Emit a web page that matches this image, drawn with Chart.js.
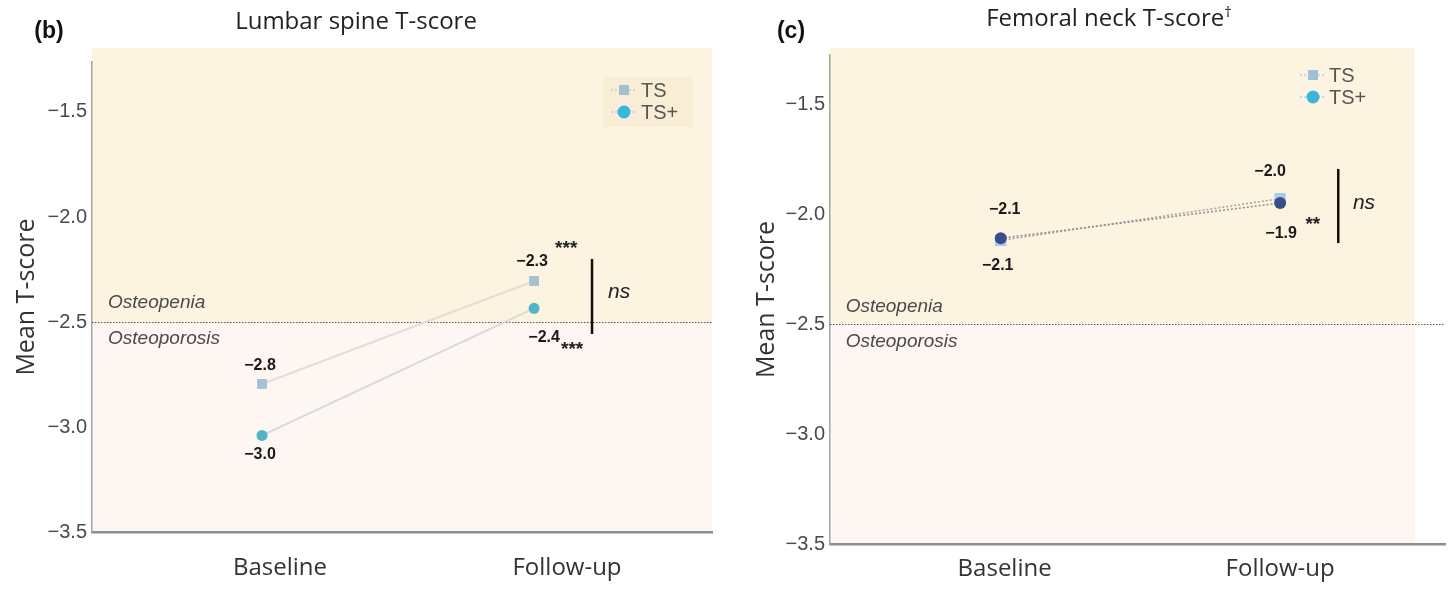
<!DOCTYPE html>
<html><head><meta charset="utf-8">
<script src="https://cdn.jsdelivr.net/npm/chart.js@4.4.1/dist/chart.umd.min.js"></script>
<style>
html,body{margin:0;padding:0;background:#fff;}
#wrap{position:relative;width:1453px;height:590px;overflow:hidden;background:#fff;}
.panel{position:absolute;top:0;height:590px;}
</style></head><body>
<div id="wrap">
<div class="panel" style="left:0;width:727px"><canvas id="cb" width="727" height="590"></canvas></div>
<div class="panel" style="left:727px;width:726px"><canvas id="cc" width="726" height="590"></canvas></div>
</div>
<script>
// ---------- data ----------
const timepoints = ['Baseline', 'Follow-up'];
const seriesNames = ['TS', 'TS+'];
const yTicks = [-3.5, -3.0, -2.5, -2.0, -1.5];
const thresholdValue = -2.5;
const zoneLabels = ['Osteopenia', 'Osteoporosis'];

// (b) Lumbar spine T-score
const lumbarTS = [-2.795, -2.305];
const lumbarTSplus = [-3.04, -2.435];
const lumbarTSLabels = ['−2.8', '−2.3'];
const lumbarTSplusLabels = ['−3.0', '−2.4'];
const lumbarSig = ['***', '***', 'ns'];

// (c) Femoral neck T-score
const femoralTS = [-2.12, -1.93];
const femoralTSplus = [-2.11, -1.95];
const femoralTSLabels = ['−2.1', '−2.0'];
const femoralTSplusLabels = ['−2.1', '−1.9'];
const femoralSig = ['**', 'ns'];

// ---------- helpers ----------
function fmt(v){ return (v < 0 ? '−' : '') + Math.abs(v).toFixed(1); }

const decor = {
  id: 'decor',
  beforeDraw(chart, _a, o) {
    const {ctx, chartArea: a, scales: {y}} = chart;
    const yT = y.getPixelForValue(thresholdValue);
    ctx.save();
    ctx.fillStyle = o.upperFill;
    ctx.fillRect(a.left, o.shadeTop, o.shadeRight - a.left, yT - o.shadeTop);
    ctx.fillStyle = o.lowerFill;
    ctx.fillRect(a.left, yT, o.shadeRight - a.left, a.bottom - yT);
    if (o.legendBox) {
      const b = o.legendBox;
      ctx.fillStyle = b.color;
      ctx.fillRect(b.x, b.y, b.w, b.h);
    }
    ctx.restore();
  },
  beforeDatasetsDraw(chart, _a, o) {
    const {ctx, chartArea: a, scales: {y}} = chart;
    const yT = Math.round(y.getPixelForValue(thresholdValue)) + 0.5;
    ctx.save();
    ctx.strokeStyle = '#555';
    ctx.lineWidth = 1;
    ctx.setLineDash([1.5, 1.5]);
    ctx.beginPath(); ctx.moveTo(a.left, yT); ctx.lineTo(a.right, yT); ctx.stroke();
    ctx.restore();
  },
  afterDraw(chart, _a, o) {
    const {ctx, chartArea: a, scales: {x, y}} = chart;
    ctx.save();
    // panel letter
    ctx.fillStyle = '#111';
    ctx.font = 'bold 23px "Liberation Sans", Arial, sans-serif';
    ctx.textAlign = 'center'; ctx.textBaseline = 'middle';
    ctx.fillText(o.letter.text, o.letter.x, o.letter.y);
    // title
    ctx.font = '24px "Open Sans", sans-serif';
    ctx.fillStyle = '#222';
    ctx.textBaseline = 'alphabetic';
    const tw = ctx.measureText(o.title.text).width;
    let sw = 0;
    if (o.title.sup) { ctx.font = '15px "Open Sans", sans-serif'; sw = ctx.measureText(o.title.sup).width; }
    const startX = o.title.x - (tw + sw) / 2;
    ctx.font = '24px "Open Sans", sans-serif';
    ctx.textAlign = 'left';
    ctx.fillText(o.title.text, startX, o.title.y);
    if (o.title.sup) { ctx.font = '15px "Open Sans", sans-serif'; ctx.fillText(o.title.sup, startX + tw, o.title.y - 9); }
    // y axis title
    ctx.save();
    ctx.translate(o.yTitle.x, (a.top + a.bottom) / 2);
    ctx.rotate(-Math.PI / 2);
    ctx.textAlign = 'center'; ctx.textBaseline = 'middle';
    ctx.font = '25px "Open Sans", sans-serif';
    ctx.fillStyle = '#333';
    ctx.fillText('Mean T-score', 0, 0);
    ctx.restore();
    // zone labels
    ctx.font = 'italic 19px "Liberation Sans", Arial, sans-serif';
    ctx.fillStyle = '#4a4a4a';
    ctx.textAlign = 'left'; ctx.textBaseline = 'middle';
    o.zones.forEach((z, i) => ctx.fillText(zoneLabels[i], x.getPixelForValue(z.x), y.getPixelForValue(z.y)));
    // point labels
    ctx.font = 'bold 16px "Liberation Sans", Arial, sans-serif';
    ctx.fillStyle = '#1a1a1a';
    ctx.textAlign = 'center';
    o.pointLabels.forEach((set, di) => {
      const meta = chart.getDatasetMeta(di);
      set.texts.forEach((t, j) => {
        const p = meta.data[j];
        ctx.fillText(t, p.x + set.off[j][0], p.y + set.off[j][1]);
      });
    });
    // significance marks
    o.marks.forEach(m => {
      ctx.font = m.font;
      ctx.fillStyle = '#222';
      ctx.fillText(m.text, x.getPixelForValue(m.x), y.getPixelForValue(m.y));
    });
    // bracket bar
    o.bars.forEach(b => {
      const bx = x.getPixelForValue(b.x);
      ctx.strokeStyle = '#111'; ctx.lineWidth = 2.5;
      ctx.beginPath(); ctx.moveTo(bx, y.getPixelForValue(b.y1)); ctx.lineTo(bx, y.getPixelForValue(b.y2)); ctx.stroke();
    });
    // legend
    o.legend.items.forEach((it, i) => {
      const ly = o.legend.y[i];
      const mx = o.legend.x;
      ctx.strokeStyle = it.lineColor; ctx.lineWidth = 1.5; ctx.setLineDash([2, 2]);
      ctx.beginPath(); ctx.moveTo(mx - 13, ly); ctx.lineTo(mx - 5, ly); ctx.moveTo(mx + 5, ly); ctx.lineTo(mx + 13, ly); ctx.stroke();
      ctx.setLineDash([]);
      ctx.fillStyle = it.color;
      if (it.shape === 'rect') ctx.fillRect(mx - 5, ly - 5, 10, 10);
      else { ctx.beginPath(); ctx.arc(mx, ly, 6.5, 0, Math.PI * 2); ctx.fill(); }
      ctx.fillStyle = '#555';
      ctx.font = '20px "Liberation Sans", Arial, sans-serif';
      ctx.textAlign = 'left'; ctx.textBaseline = 'middle';
      ctx.fillText(seriesNames[i], o.legend.textX, ly + 1);
    });
    ctx.restore();
  }
};

function makeChart(id, c) {
  return new Chart(document.getElementById(id), {
    type: 'scatter',
    data: {
      datasets: [
        { label: seriesNames[0], data: c.ts.map((v, i) => ({x: i, y: v})), showLine: true,
          borderColor: c.tsLine, borderWidth: c.lineWidth, borderDash: c.dash,
          pointStyle: 'rect', pointRadius: c.tsRadius, pointBackgroundColor: c.tsColor, pointBorderColor: c.tsColor, pointBorderWidth: 0, order: 2 },
        { label: seriesNames[1], data: c.tsp.map((v, i) => ({x: i, y: v})), showLine: true,
          borderColor: c.tspLine, borderWidth: c.lineWidth, borderDash: c.dash,
          pointStyle: 'circle', pointRadius: c.tspRadius, pointBackgroundColor: c.tspColor, pointBorderColor: c.tspColor, pointBorderWidth: 0, order: 1 }
      ]
    },
    options: {
      responsive: false,
      animation: false,
      devicePixelRatio: 1,
      layout: { padding: c.padding },
      plugins: { legend: { display: false }, tooltip: { enabled: false }, decor: c.decor },
      scales: {
        x: {
          type: 'linear', min: c.xMin, max: c.xMax,
          grid: { display: false, drawTicks: false },
          border: { display: true, color: '#8e8e8e', width: 2.5 },
          afterBuildTicks: ax => { ax.ticks = c.xLabelPos.map(v => ({value: v})); },
          afterFit: ax => { ax.height = c.xHeight; },
          ticks: { padding: c.xPad, maxRotation: 0, autoSkip: false,
            font: { family: '"Open Sans", sans-serif', size: 24 }, color: '#333',
            callback: (v, i) => timepoints[i] }
        },
        y: {
          type: 'linear', min: -3.5, max: c.yMax,
          grid: { display: false, drawTicks: false },
          border: { display: true, color: '#a3a3a3', width: 1.5 },
          afterBuildTicks: ax => { ax.ticks = yTicks.map(v => ({value: v})); },
          afterFit: ax => { ax.width = c.yWidth; },
          ticks: { padding: 5, font: { family: '"Liberation Sans", Arial, sans-serif', size: 20 }, color: '#4a4a4a',
            callback: v => fmt(v) }
        }
      }
    },
    plugins: [decor]
  });
}

// (b)
makeChart('cb', {
  ts: lumbarTS, tsp: lumbarTSplus,
  tsLine: '#e4dcd6', tspLine: '#d3dcd6', lineWidth: 2, dash: [],
  tsColor: '#a9c0d2', tspColor: '#4fb4c6', tsRadius: 7, tspRadius: 5.5,
  padding: { top: 62, right: 15, bottom: 0, left: 0 },
  xMin: -0.625, xMax: 1.654, xLabelPos: [0.066, 1.121], xHeight: 58, xPad: 22,
  yMax: -1.262, yWidth: 92,
  decor: {
    upperFill: '#fcf4e1', lowerFill: '#fdf6f2', shadeTop: 48, shadeRight: 712,
    legendBox: { x: 603, y: 77, w: 90, h: 50, color: '#f9eed5' },
    letter: { text: '(b)', x: 49, y: 32 },
    title: { text: 'Lumbar spine T-score', x: 356, y: 29 },
    yTitle: { x: 27 },
    zones: [{ x: -0.566, y: -2.41 }, { x: -0.566, y: -2.581 }],
    pointLabels: [
      { texts: lumbarTSLabels, off: [[-2, -18], [-2, -19]] },
      { texts: lumbarTSplusLabels, off: [[-2, 19], [10, 29]] }
    ],
    marks: [
      { text: lumbarSig[0], x: 1.118, y: -2.15, font: 'bold 19px "Liberation Sans", Arial, sans-serif' },
      { text: lumbarSig[1], x: 1.140, y: -2.63, font: 'bold 19px "Liberation Sans", Arial, sans-serif' },
      { text: lumbarSig[2], x: 1.3125, y: -2.357, font: 'italic 21px "Liberation Sans", Arial, sans-serif' }
    ],
    bars: [{ x: 1.213, y1: -2.2, y2: -2.557 }],
    legend: { x: 624, textX: 641, y: [90, 112],
      items: [ { shape: 'rect', color: '#a3bfd8', lineColor: '#b5d0e2' }, { shape: 'circle', color: '#3db4dc', lineColor: '#9fd6e4' } ] }
  }
});

// (c)
makeChart('cc', {
  ts: femoralTS, tsp: femoralTSplus,
  tsLine: '#a0a0a0', tspLine: '#8f8f8f', lineWidth: 1.5, dash: [2, 2],
  tsColor: '#a9cbea', tspColor: '#3b4b8c', tsRadius: 8, tspRadius: 6,
  padding: { top: 55, right: 0, bottom: 0, left: 0 },
  xMin: -0.611, xMax: 1.590, xLabelPos: [0.014, 1.0], xHeight: 46, xPad: 11,
  yMax: -1.277, yWidth: 103,
  decor: {
    upperFill: '#fcf4e1', lowerFill: '#fdf6f2', shadeTop: 48, shadeRight: 688,
    legendBox: null,
    letter: { text: '(c)', x: 64, y: 32 },
    title: { text: 'Femoral neck T-score', sup: '†', x: 382, y: 26 },
    yTitle: { x: 40 },
    zones: [{ x: -0.555, y: -2.423 }, { x: -0.555, y: -2.582 }],
    pointLabels: [
      { texts: femoralTSLabels, off: [[4, -31], [-10, -27]] },
      { texts: femoralTSplusLabels, off: [[-3, 27], [1, 31]] }
    ],
    marks: [
      { text: femoralSig[0], x: 1.117, y: -2.05, font: 'bold 19px "Liberation Sans", Arial, sans-serif' },
      { text: femoralSig[1], x: 1.300, y: -1.95, font: 'italic 21px "Liberation Sans", Arial, sans-serif' }
    ],
    bars: [{ x: 1.208, y1: -1.795, y2: -2.132 }],
    legend: { x: 586, textX: 602, y: [75, 97],
      items: [ { shape: 'rect', color: '#a3bfd8', lineColor: '#b5d0e2' }, { shape: 'circle', color: '#3db4dc', lineColor: '#9fd6e4' } ] }
  }
});
</script>
</body></html>
